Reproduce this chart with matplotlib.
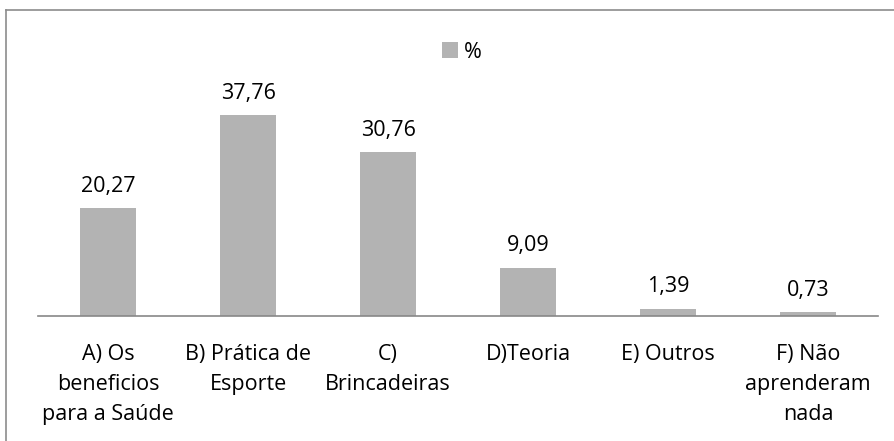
import matplotlib
matplotlib.use("Agg")
import matplotlib.pyplot as plt
from matplotlib.lines import Line2D

categories = ["A) Os\nbeneficios\npara a Saúde", "B) Prática de\nEsporte", "C)\nBrincadeiras",
              "D)Teoria", "E) Outros", "F) Não\naprenderam\nnada"]
values = [20.27, 37.76, 30.76, 9.09, 1.39, 0.73]
value_labels = ["20,27", "37,76", "30,76", "9,09", "1,39", "0,73"]
series_name = "%"

plt.rcParams['font.family'] = ['Open Sans', 'DejaVu Sans']
W, H = 894, 441
fig = plt.figure(figsize=(W / 100, H / 100), dpi=100)

# border
fig.add_artist(Line2D([5.5 / W, 5.5 / W], [0, 1 - 9.5 / H], transform=fig.transFigure, color="#8c8c8c", lw=1.2))
fig.add_artist(Line2D([5.5 / W, 1], [1 - 9.5 / H, 1 - 9.5 / H], transform=fig.transFigure, color="#8c8c8c", lw=1.2))

ax_left, ax_right = 38, 878
ax_bottom, ax_top = 316, 103
ax = fig.add_axes([ax_left / W, (H - ax_bottom) / H, (ax_right - ax_left) / W, (ax_bottom - ax_top) / H])

FS = 15.5
x = range(len(categories))
bars = ax.bar(x, values, width=0.4, color="#b3b3b3", label=series_name)
ax.set_xlim(-0.5, len(categories) - 0.5)
ax.set_ylim(0, 40)
for xi, v, lab in zip(x, values, value_labels):
    ax.annotate(lab, (xi, v), xytext=(0, 8), textcoords="offset points",
                ha="center", va="bottom", fontsize=FS, color="black")

ax.set_xticks(list(x))
ax.set_xticklabels(categories, fontsize=FS, linespacing=1.56, va="top")
ax.tick_params(axis="x", length=0, pad=20.5)
ax.set_yticks([])
for s in ["top", "right", "left"]:
    ax.spines[s].set_visible(False)
ax.spines["bottom"].set_color("#878787")
ax.spines["bottom"].set_linewidth(1.2)

leg = fig.legend(handles=[bars], labels=[series_name], loc="center",
                 bbox_to_anchor=(462 / W, 1 - 52 / H), frameon=False, fontsize=FS,
                 handlelength=0.75, handleheight=0.75, handletextpad=0.3)

fig.savefig("out.png", dpi=100)
